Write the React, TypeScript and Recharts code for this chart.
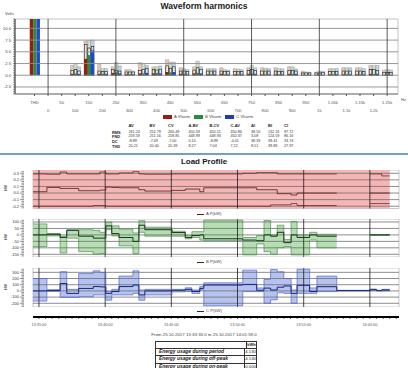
import React from 'react';
import {
  BarChart, Bar, XAxis, YAxis, ReferenceLine, ReferenceArea,
  ComposedChart, Line, Area,
} from 'recharts';

const FONT = '"Liberation Sans", Arial, Helvetica, sans-serif';

// ---------- Waveform harmonics (Volts) ----------
// -50 is the THD slot, harmonics every 50 Hz from 100 Hz
const harmFreq = [-50, 100, 150, 200, 250, 300, 350, 400, 450, 500, 550, 600, 650, 700, 750, 800, 850, 900, 950, 1000, 1050, 1100, 1150, 1200, 1250];
const aVMax = [null, 2.1, 7.3, 2.3, 1.8, 1.2, 2.7, 1.8, 3.3, 1.6, 1.8, 1.4, 1.6, 1.4, 1.6, 1.6, 1.6, 1.8, 0.85, 0.7, 1.4, 1.6, 1.6, 2.1, 1.1];
const bVMax = [null, 2.5, 7.4, 1.4, 2.7, 1.2, 2.5, 1.8, 2.8, 1.4, 3.0, 1.4, 1.2, 1.3, 2.1, 1.5, 1.4, 1.8, 0.7, 0.9, 1.4, 1.6, 1.6, 2.1, 1.2];
const cVMax = [null, 1.8, 7.5, 1.4, 2.0, 0.9, 2.1, 2.0, 2.8, 1.2, 1.8, 1.4, 1.1, 1.2, 1.6, 1.4, 1.35, 1.35, 0.65, 0.85, 1.4, 1.6, 1.4, 2.1, 1.1];
const aVAvg = [null, 1.0, 6.6, 0.9, 1.2, 0.7, 1.0, 1.2, 2.0, 0.9, 1.1, 0.9, 0.9, 0.8, 1.0, 0.9, 0.9, 1.0, 0.5, 0.5, 0.8, 0.9, 0.9, 1.2, 0.6];
const bVAvg = [null, 1.2, 5.8, 0.8, 1.0, 0.7, 1.2, 1.1, 1.5, 0.9, 1.6, 0.9, 0.8, 0.8, 1.2, 0.9, 0.8, 1.0, 0.5, 0.5, 0.8, 0.9, 0.9, 1.2, 0.6];
const cVAvg = [null, 0.9, 6.1, 0.8, 0.9, 0.7, 1.5, 1.3, 1.8, 0.8, 1.2, 0.9, 0.8, 0.8, 1.0, 0.9, 0.8, 0.9, 0.5, 0.6, 0.8, 0.9, 0.8, 1.0, 0.6];
const aVMin = [20.21, 0.3, 3.5, 0.3, 0.5, 0.2, 0.4, 0.4, 0.7, 0.3, 0.4, 0.2, 0.3, 0.2, 0.3, 0.2, 0.2, 0.3, 0.1, 0.1, 0.2, 0.2, 0.2, 0.3, 0.1];
const bVMin = [20.40, 0.4, 4.3, 0.3, 0.6, 0.2, 0.4, 0.5, 0.6, 0.3, 0.5, 0.2, 0.2, 0.2, 0.4, 0.2, 0.2, 0.3, 0.1, 0.1, 0.2, 0.2, 0.2, 0.3, 0.1];
const cVMin = [20.39, 0.3, 5.3, 0.3, 0.4, 0.2, 0.5, 0.4, 0.7, 0.2, 0.4, 0.2, 0.2, 0.2, 0.3, 0.2, 0.2, 0.3, 0.1, 0.1, 0.2, 0.2, 0.2, 0.3, 0.1];

const freqTicks = [-50, 0, 50, 100, 150, 200, 250, 300, 350, 400, 450, 500, 550, 600, 650, 700, 750, 800, 850, 900, 950, 1000, 1050, 1100, 1150, 1200, 1250];
const freqLabels = ['THD', '0', '50', '100', '150', '200', '250', '300', '350', '400', '450', '500', '550', '600', '650', '700', '750', '800', '850', '900', '950', '1k', '1.05k', '1.1k', '1.15k', '1.2k', '1.25k'];
const freqMajor = [0, 250, 500, 750, 1000, 1250];
const voltMajor = [-2.5, 0, 2.5, 5, 7.5, 10];
const voltLabels = ['-2.5', '0.0', '2.5', '5.0', '7.5', '10.0'];
const freqDomain: [number, number] = [-122, 1290];
const voltDomain: [number, number] = [-4, 12];

// summary table
const tableCols = ['AV', 'BV', 'CV', 'A-BV', 'B-CV', 'C-AV', 'AI', 'BI', 'CI'];
const tableRowNames = ['RMS', 'FND', 'DC', 'THD'];
const rmsRow = ['261.24', '252.79', '260.49', '450.59', '450.51', '450.86', '38.50', '132.16', '97.72'];
const fndRow = ['259.59', '251.16', '258.85', '448.99', '448.93', '450.37', '3.08', '124.59', '86.16'];
const dcRow = ['-8.89', '-7.09', '-7.00', '0.10', '-8.89', '-0.01', '38.33', '39.41', '33.74'];
const thdRow = ['20.21', '20.40', '20.39', '8.27', '7.04', '7.22', '8.51', '39.89', '27.97'];

// ---------- Load profile (kW), minutes after 13:00 ----------
const segStart = [34.55, 35.6, 36.6, 37.1, 38.0, 39.1, 39.6, 40.05, 40.5, 41.05, 42.1, 42.55, 43.0, 45.05, 46.05, 46.55, 47.15, 47.45, 50.4, 51.45, 52.0, 52.5, 53.0, 53.5, 54.05, 54.5, 55.45, 56.0, 57.5, 60.0, 60.5, 60.9];
const endMinute = 61.5;
const aMaxP = [0.29, 0.285, 0.32, 0.29, 0.29, 0.29, 0.32, 0.29, 0.29, 0.305, 0.325, 0.29, 0.285, 0.29, 0.29, 0.29, 0.29, 0.29, 0.30, 0.31, 0.31, 0.31, 0.29, 0.29, 0.29, 0.29, 0.29, 0.29, null, 0.29, 0.29, 0.26];
const aAvgP = [0.02, 0.085, 0.07, 0.07, 0.035, 0.035, 0.045, 0.09, 0.085, 0.08, 0.08, 0.05, 0.03, 0.04, 0.06, 0.06, 0.02, 0.08, 0.08, 0.05, 0.05, 0.05, -0.01, -0.01, -0.03, 0.0, 0.0, 0.0, null, 0.0, 0.0, 0.0];
const aMinP = [-0.2, -0.2, -0.2, -0.2, -0.2, -0.19, -0.19, -0.2, -0.2, -0.2, -0.2, -0.2, -0.2, -0.2, -0.2, -0.2, -0.2, -0.2, -0.2, -0.2, -0.2, -0.18, -0.18, -0.18, -0.16, -0.19, -0.19, -0.19, null, -0.16, -0.16, -0.16];
const bMaxP = [85, 10, -10, 40, 40, 35, 20, 100, 70, 45, 15, 110, 60, 28, -5, 25, 25, 115, -20, -5, 112, 0, 75, -35, 105, 0, 20, 5, null, 3, 3, 3];
const bAvgP = [0, 5, -20, 35, -10, -25, -25, 70, 10, -20, -50, 75, 40, 18, -20, -5, 0, -30, -40, -45, 0, -10, 20, -60, 0, -20, 0, -10, null, 0, 0, 0];
const bMinP = [-90, -8, -140, -25, -130, -150, -145, 40, -8, -85, -145, 20, -10, -10, -30, -20, -40, -45, -155, -70, -130, -150, -100, -90, -155, -155, -40, -100, null, -3, -3, -3];
const cMaxP = [200, 20, 310, 25, 280, 325, 300, -10, 25, 240, 325, 15, 25, 25, 50, 15, 70, 130, 335, 48, 185, 345, 310, 200, 15, 350, 48, 240, 10, 30, 10, 25];
const cAvgP = [0, 5, 120, -40, 40, 70, 65, -40, -10, 70, 95, -65, 0, 10, 25, -10, 40, 95, 105, 10, 45, 15, 60, 80, -40, 90, -10, 68, 5, 20, 5, 15];
const cMinP = [-165, -5, -105, -105, -95, -65, -65, -150, -65, -65, -40, -150, -65, -15, -10, -40, 15, -240, -12, -12, -200, -145, -30, -40, -200, -40, -40, -12, 0, 5, 0, 0];

const timeMarks = [35, 40, 45, 50, 55, 60];
const timeLabels = ['13:35:00', '13:40:00', '13:45:00', '13:50:00', '13:55:00', '14:00:00'];
const tDomain: [number, number] = [34.55, 62.2];

const aTicks = [-0.2, -0.1, 0, 0.1, 0.2, 0.3];
const aTickLabels = ['-0.2', '-0.1', '0.0', '0.1', '0.2', '0.3'];
const bTicks = [-150, -100, -50, 0, 50, 100];
const bTickLabels = ['-150', '-100', '-50', '0', '50', '100'];
const cTicks = [-200, -100, 0, 100, 200, 300];
const cTickLabels = ['-200', '-100', '0', '100', '200', '300'];

const energyRows = [
  ['Energy usage during period', '4.130'],
  ['Energy usage during off-peak', '4.130'],
  ['Energy usage during on-peak', '0.000'],
];

const harmRows = harmFreq.map((f, i) => ({
  f,
  aMax: aVMax[i], bMax: bVMax[i], cMax: cVMax[i],
  aAvg: aVAvg[i], bAvg: bVAvg[i], cAvg: cVAvg[i],
  aMin: aVMin[i], bMin: bVMin[i], cMin: cVMin[i],
}));

// each interval becomes two points so a linear curve draws the steps
function stepRows(max: (number | null)[], avg: (number | null)[], min: (number | null)[]) {
  const rows: any[] = [];
  segStart.forEach((s, i) => {
    const e = i + 1 < segStart.length ? segStart[i + 1] : endMinute;
    const v = {
      max: max[i], avg: avg[i], min: min[i],
      range: max[i] == null ? null : [min[i], max[i]],
    };
    rows.push({ t: s, ...v });
    rows.push({ t: e, ...v });
  });
  return rows;
}

const aRows = stepRows(aMaxP, aAvgP, aMinP);
const bRows = stepRows(bMaxP, bAvgP, bMinP);
const cRows = stepRows(cMaxP, cAvgP, cMinP);

function minorTicks(domain: [number, number], step: number) {
  const out: number[] = [];
  for (let k = Math.ceil(domain[0] / step); k * step <= domain[1]; k++) {
    out.push(Math.round(k * step * 10000) / 10000);
  }
  return out;
}

const clockTicks = minorTicks([35, 62], 0.5);

const FreqTick = (p: any) => {
  const i = freqTicks.indexOf(p.payload.value);
  if (i < 0) return null;
  return (
    <text x={p.x} y={p.y + (i % 2 === 0 ? 5.5 : 13.5)} textAnchor="middle" fontSize={4.2} fill="#555" fontFamily={FONT}>
      {freqLabels[i]}
    </text>
  );
};

const VoltTick = (p: any) => {
  const i = voltMajor.findIndex((m) => Math.abs(m - p.payload.value) < 1e-6);
  if (i < 0) return null;
  return (
    <text x={p.x} y={p.y} dy={1.5} textAnchor="end" fontSize={4.2} fill="#444" fontFamily={FONT}>
      {voltLabels[i]}
    </text>
  );
};

const OutlinedBox = (p: any) => {
  const { x, y, width, height, fill } = p;
  if (!height || height <= 0) return null;
  return <rect x={x + 0.4} y={y} width={Math.max(width - 0.8, 0.5)} height={height} fill={fill} stroke="#111" strokeWidth={0.55} />;
};

function HarmonicsChart() {
  const minors = minorTicks(voltDomain, 0.5);
  return (
    <BarChart width={408} height={112} data={harmRows} margin={{ top: 19, right: 10, bottom: 0, left: 0 }} barGap={0}>
      <XAxis xAxisId="h1" dataKey="f" type="number" domain={freqDomain} allowDataOverflow ticks={freqTicks} interval={0}
        height={18} tickSize={2} tick={<FreqTick />} axisLine={{ stroke: '#777' }} tickLine={{ stroke: '#555' }} />
      <XAxis xAxisId="h2" dataKey="f" type="number" domain={freqDomain} allowDataOverflow hide height={0} />
      <XAxis xAxisId="h3" dataKey="f" type="number" domain={freqDomain} allowDataOverflow hide height={0} />
      <YAxis type="number" domain={voltDomain} allowDataOverflow ticks={minors} interval={0} width={15}
        tickSize={2} tickMargin={2} tick={<VoltTick />} axisLine={{ stroke: '#333' }} tickLine={{ stroke: '#333', strokeWidth: 0.5 }} />
      <ReferenceArea xAxisId="h1" x1={freqDomain[0]} x2={freqDomain[1]} y1={voltDomain[0]} y2={voltDomain[1]} fill="none" stroke="#b5b5b5" strokeWidth={0.8} />
      {voltMajor.map((v) => (
        <ReferenceLine key={'v' + v} xAxisId="h1" y={v} stroke="#8c8c8c" strokeWidth={0.9} />
      ))}
      {freqMajor.map((f) => (
        <ReferenceLine key={'f' + f} xAxisId="h1" x={f} stroke="#333" strokeWidth={0.8} />
      ))}
      <Bar xAxisId="h1" dataKey="aMax" barSize={3.4} fill="#e9c6b9" stroke="#8a8a8a" strokeWidth={0.4} isAnimationActive={false} />
      <Bar xAxisId="h1" dataKey="bMax" barSize={3.4} fill="#c9dec4" stroke="#8a8a8a" strokeWidth={0.4} isAnimationActive={false} />
      <Bar xAxisId="h1" dataKey="cMax" barSize={3.4} fill="#c3d0ea" stroke="#8a8a8a" strokeWidth={0.4} isAnimationActive={false} />
      <Bar xAxisId="h2" dataKey="aAvg" barSize={3.4} fill="#f3e4dc" shape={<OutlinedBox />} isAnimationActive={false} />
      <Bar xAxisId="h2" dataKey="bAvg" barSize={3.4} fill="#e2eee0" shape={<OutlinedBox />} isAnimationActive={false} />
      <Bar xAxisId="h2" dataKey="cAvg" barSize={3.4} fill="#dde5f4" shape={<OutlinedBox />} isAnimationActive={false} />
      <Bar xAxisId="h3" dataKey="aMin" barSize={3.4} fill="#9a1d10" isAnimationActive={false} />
      <Bar xAxisId="h3" dataKey="bMin" barSize={3.4} fill="#2c8a3c" isAnimationActive={false} />
      <Bar xAxisId="h3" dataKey="cMin" barSize={3.4} fill="#1f47d0" isAnimationActive={false} />
    </BarChart>
  );
}

const ClockTick = (p: any) => {
  const i = timeMarks.indexOf(p.payload.value);
  if (i < 0) return null;
  return (
    <text x={p.x} y={p.y} dy={5} textAnchor="middle" fontSize={3.8} fill="#555" fontFamily={FONT}>
      {timeLabels[i]}
    </text>
  );
};

// time axis below the three panels, sharing their time scale
function ClockAxis() {
  return (
    <div style={{ position: 'absolute', left: 0, top: 307 }}>
      <ComposedChart width={408} height={24} data={cRows} margin={{ top: 0, right: 9, bottom: 0, left: 33 }}>
        <XAxis dataKey="t" type="number" domain={tDomain} allowDataOverflow ticks={clockTicks} interval={0}
          height={14} tickSize={2} tick={<ClockTick />} axisLine={{ stroke: '#000', strokeWidth: 2 }} tickLine={{ stroke: '#000', strokeWidth: 0.6 }} />
        <YAxis type="number" domain={[-260, 370]} hide />
        <Line dataKey="avg" stroke="none" dot={false} isAnimationActive={false} />
      </ComposedChart>
    </div>
  );
}

type PanelProps = {
  rows: any[];
  top: number;
  height: number;
  domain: [number, number];
  majors: number[];
  labels: string[];
  minorStep: number;
  fill: string;
  edge: string;
  mid: string;
  lineW: number;
  envelope?: boolean;
};

function LoadPanel(p: PanelProps) {
  const minors = minorTicks(p.domain, p.minorStep);
  const tick = (t: any) => {
    const i = p.majors.findIndex((m) => Math.abs(m - t.payload.value) < 1e-6);
    return (
      <g>
        <line x1={t.x - (i >= 0 ? 13 : 11.5)} x2={t.x - 9} y1={t.y} y2={t.y} stroke="#222" strokeWidth={0.5} />
        {i >= 0 && (
          <text x={t.x - 14} y={t.y} dy={1.4} textAnchor="end" fontSize={4} fill="#333" fontFamily={FONT}>
            {p.labels[i]}
          </text>
        )}
      </g>
    );
  };
  return (
    <div style={{ position: 'absolute', left: 0, top: p.top }}>
      <ComposedChart width={408} height={p.height} data={p.rows} margin={{ top: 0, right: 9, bottom: 0, left: 0 }}>
        <XAxis dataKey="t" type="number" domain={tDomain} allowDataOverflow hide height={0} />
        <YAxis type="number" domain={p.domain} allowDataOverflow ticks={minors} interval={0} width={33}
          tickSize={0} tickMargin={0} axisLine={false} tickLine={false} tick={tick} />
        <ReferenceArea x1={tDomain[0]} x2={tDomain[1]} y1={p.domain[0]} y2={p.domain[1]} fill="none" stroke="#b8b8b8" strokeWidth={0.8} />
        {p.envelope && (
          <ReferenceArea x1={segStart[0]} x2={endMinute} y1={p.domain[0]} y2={p.domain[1]} fill={p.fill} fillOpacity={1} stroke="none" />
        )}
        {!p.envelope && (
          <Area dataKey="range" type="linear" fill={p.fill} fillOpacity={0.85} stroke="none" isAnimationActive={false} />
        )}
        {p.majors.map((v) => (
          <ReferenceLine key={'y' + v} y={v} stroke="#6e6e6e" strokeWidth={0.8} />
        ))}
        {timeMarks.map((m) => (
          <ReferenceLine key={'x' + m} x={m} stroke="#1a1a1a" strokeWidth={0.8} />
        ))}
        <Line dataKey="max" type="linear" stroke={p.edge} strokeWidth={0.7} dot={false} isAnimationActive={false} />
        <Line dataKey="min" type="linear" stroke={p.edge} strokeWidth={0.7} dot={false} isAnimationActive={false} />
        <Line dataKey="avg" type="linear" stroke={p.mid} strokeWidth={p.lineW} dot={false} isAnimationActive={false} />
      </ComposedChart>
    </div>
  );
}

const txt = (extra: React.CSSProperties): React.CSSProperties => ({
  position: 'absolute', fontFamily: FONT, whiteSpace: 'nowrap', lineHeight: 1, ...extra,
});

function PanelLegend({ top, color, label }: { top: number; color: string; label: string }) {
  return (
    <div style={txt({ left: 197, top, fontSize: 4.2, color: '#444', display: 'flex', alignItems: 'center' })}>
      <span style={{ display: 'inline-block', width: 7, height: 1, background: color, marginRight: 2 }} />
      {label}
    </div>
  );
}

function KwLabel({ top }: { top: number }) {
  return (
    <div style={txt({ left: 3, top, fontSize: 4.2, color: '#333', transform: 'rotate(-90deg)' })}>kW</div>
  );
}

export default function App() {
  const colX = [128.5, 149.5, 168, 188.5, 209.5, 230.5, 251, 268, 284];
  const rowY = [130.8, 135.4, 140, 144.6];
  const tableRows = [rmsRow, fndRow, dcRow, thdRow];
  return (
    <div style={{ position: 'absolute', left: 0, top: 0, width: 408, height: 368, background: '#fff', overflow: 'hidden', fontFamily: FONT }}>
      <div style={txt({ left: 0, width: 408, top: 1.5, textAlign: 'center', fontSize: 8.6, fontWeight: 700, color: '#1a1a1a' })}>
        Waveform harmonics
      </div>
      <div style={txt({ left: 5, top: 12, fontSize: 4, color: '#444' })}>Volts</div>
      <div style={txt({ left: 401, top: 98, fontSize: 4.2, color: '#555' })}>Hz</div>
      <div style={{ position: 'absolute', left: 0, top: 0 }}>
        <HarmonicsChart />
      </div>

      {/* legend */}
      <div style={txt({ left: 163, top: 114.5, fontSize: 4.2, color: '#444', display: 'flex', alignItems: 'center' })}>
        <span style={{ display: 'inline-block', width: 9, height: 4, background: '#9a1d10', marginRight: 2 }} />A Vharm
        <span style={{ display: 'inline-block', width: 9, height: 4, background: '#2c8a3c', margin: '0 2px 0 4px' }} />B Vharm
        <span style={{ display: 'inline-block', width: 9, height: 4, background: '#1f3fb0', margin: '0 2px 0 4px' }} />C Vharm
      </div>

      {/* summary table */}
      {tableCols.map((c, i) => (
        <div key={c} style={txt({ left: colX[i], top: 124, fontSize: 4, fontWeight: 700, color: '#222' })}>{c}</div>
      ))}
      {tableRowNames.map((r, j) => (
        <React.Fragment key={r}>
          <div style={txt({ left: 112, top: rowY[j], fontSize: 3.9, fontWeight: 700, color: '#222' })}>{r}</div>
          {tableRows[j].map((v, i) => (
            <div key={i} style={txt({ left: colX[i], top: rowY[j], fontSize: 3.7, color: '#333' })}>{v}</div>
          ))}
        </React.Fragment>
      ))}

      <div style={{ position: 'absolute', left: 0, top: 153, width: 408, height: 2, background: '#6f9fcc' }} />

      <div style={txt({ left: 0, width: 408, top: 158, textAlign: 'center', fontSize: 8, fontWeight: 700, color: '#1a1a1a' })}>
        Load Profile
      </div>

      <LoadPanel rows={aRows} top={170} height={38.5} domain={[-0.235, 0.35]} majors={aTicks} labels={aTickLabels} minorStep={0.025}
        fill="#f5b5b5" edge="#5a1a1a" mid="#5a1a1a" lineW={0.8} envelope />
      <KwLabel top={186} />
      <PanelLegend top={212} color="#5a1a1a" label="A P(kW)" />

      <LoadPanel rows={bRows} top={219} height={38} domain={[-171, 123]} majors={bTicks} labels={bTickLabels} minorStep={12.5}
        fill="#a9d8a6" edge="#4f8f4f" mid="#16351a" lineW={1} />
      <KwLabel top={235} />
      <PanelLegend top={260} color="#1e3e1e" label="B P(kW)" />

      <LoadPanel rows={cRows} top={268} height={39} domain={[-260, 370]} majors={cTicks} labels={cTickLabels} minorStep={25}
        fill="#a9b8ee" edge="#5566c8" mid="#17267a" lineW={1} />
      <KwLabel top={285} />
      <PanelLegend top={309} color="#17267a" label="C P(kW)" />

      <ClockAxis />

      <div style={txt({ left: 0, width: 408, top: 332.5, textAlign: 'center', fontSize: 4.4, color: '#444' })}>
        From 25.10.2017 13:33:33.0 to 25.10.2017 14:01:59.0
      </div>

      {/* energy table */}
      <div style={{ position: 'absolute', left: 155, top: 341, width: 100, border: '0.6px solid #333', fontFamily: FONT, background: '#fff' }}>
        <div style={{ display: 'flex', height: 5.5, borderBottom: '0.6px solid #333' }}>
          <div style={{ width: 90, borderRight: '0.6px solid #333' }} />
          <div style={{ flex: 1, fontSize: 4, fontWeight: 700, textAlign: 'center', lineHeight: '5.5px', color: '#222' }}>kWh</div>
        </div>
        {energyRows.map((r, i) => (
          <div key={i} style={{ display: 'flex', height: 6.6, borderBottom: i < 2 ? '0.6px solid #333' : 'none' }}>
            <div style={{ width: 90, borderRight: '0.6px solid #333', fontSize: 4.9, fontStyle: 'italic', fontWeight: 700, lineHeight: '6.6px', paddingLeft: 3, color: '#222', whiteSpace: 'nowrap', boxSizing: 'border-box' }}>{r[0]}</div>
            <div style={{ flex: 1, fontSize: 4.3, textAlign: 'center', lineHeight: '6.6px', color: '#222' }}>{r[1]}</div>
          </div>
        ))}
      </div>
    </div>
  );
}
